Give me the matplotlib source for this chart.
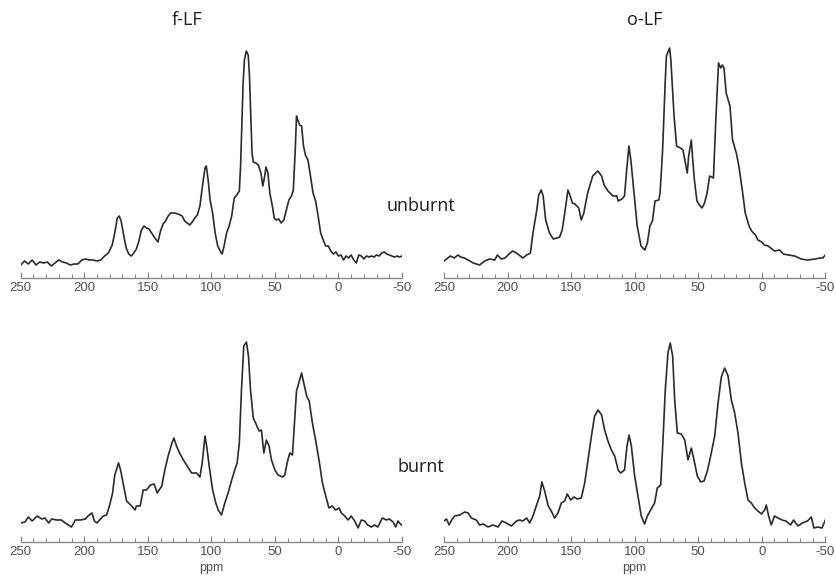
import matplotlib
matplotlib.use("Agg")
import matplotlib.pyplot as plt
from matplotlib.ticker import MultipleLocator

plt.rcParams["axes.unicode_minus"] = False

# ---------------- data (ppm, intensity) ----------------
fLF_unburnt_ppm = [250, 247, 244, 241, 238, 235, 232, 229, 226, 223, 220, 217, 214, 211, 208, 205, 202, 199, 196, 193,
                   190, 187, 184, 181, 178, 176, 174, 172.5, 171, 169, 167, 165, 163, 161, 159, 157, 155, 153, 151, 149,
                   147, 145, 142, 140, 138, 136, 134, 132, 129, 126, 123, 121, 119, 117, 115, 113, 111, 109, 107, 105,
                   104, 102.5, 101, 99, 97, 95, 93, 91.5, 90, 88, 86, 84, 82, 80, 78, 77, 76, 75, 74, 72.5,
                   71, 70, 69, 68, 67, 65, 63, 61, 59.5, 58, 57, 55.5, 54, 52, 50.5, 49, 47, 45, 43, 41,
                   39, 37, 35.5, 34, 33, 32, 30.5, 29, 27.5, 26, 24, 22, 20, 18, 16, 14, 12, 10, 8, 6,
                   4, 2, 0, -2, -4, -6, -8, -10, -12, -14, -16, -18, -20, -22, -24, -26, -28, -30, -32, -34,
                   -36, -38, -40, -42, -44, -46, -48, -50]
fLF_unburnt_int = [13, 17, 14, 18, 13, 16, 15, 16, 12, 15, 18, 16, 15, 13, 14, 14, 18, 19, 18, 18,
                   17, 18, 22, 25, 33, 45, 60, 62, 57, 43, 30, 24, 22, 25, 29, 37, 48, 52, 50, 49,
                   45, 41, 36, 47, 54, 57, 62, 65, 65, 64, 62, 57, 55, 53, 56, 60, 63, 72, 92, 110,
                   112, 98, 78, 65, 45, 32, 27, 24, 32, 45, 52, 62, 80, 83, 87, 112, 152, 195, 218, 227,
                   223, 202, 162, 125, 116, 115, 113, 105, 92, 102, 111, 105, 85, 72, 60, 58, 59, 55, 58, 68,
                   78, 82, 88, 128, 162, 158, 153, 152, 132, 123, 118, 102, 85, 77, 62, 45, 38, 32, 32, 27,
                   24, 26, 22, 23, 18, 22, 20, 23, 18, 15, 23, 22, 19, 22, 21, 22, 21, 23, 22, 25,
                   26, 24, 23, 22, 21, 22, 21, 22]

oLF_unburnt_ppm = [250, 247, 245, 242, 239, 237, 234, 231, 227, 222, 218, 214, 210, 208, 205, 202, 198, 196, 193, 190,
                   188, 185, 182, 180, 177, 175.5, 173.5, 172, 170, 167, 164, 161, 159, 157, 155, 152.5, 151, 149, 147, 144,
                   142, 140, 137, 133, 129, 126, 124, 121, 117, 114, 113, 110, 108, 106, 104.5, 103, 100.5, 98, 95, 92,
                   90, 88, 86, 84, 81, 80, 78, 76, 75, 72.5, 71.5, 69, 67, 64, 62, 58.6, 57.5, 55.4, 54.5, 53,
                   51, 49, 47, 45, 43, 41, 38, 36, 34, 32.3, 31, 29.7, 28, 25, 23, 20, 18, 15, 13, 10,
                   8, 5, 3, 0, -2, -5, -8, -10, -14, -17, -21, -26, -31, -36, -42, -46, -48, -50]
oLF_unburnt_int = [17, 20, 22, 20, 23, 21, 20, 18, 15, 13, 17, 19, 18, 23, 19, 20, 25, 27, 25, 22,
                   20, 23, 25, 45, 68, 83, 88, 82, 58, 45, 39, 40, 41, 48, 65, 88, 83, 75, 74, 70,
                   58, 65, 85, 102, 107, 102, 93, 87, 82, 82, 77, 79, 82, 112, 132, 118, 85, 52, 32, 28,
                   35, 52, 57, 77, 78, 85, 128, 195, 222, 230, 218, 162, 132, 130, 128, 105, 122, 138, 122, 98,
                   77, 73, 70, 75, 85, 102, 100, 162, 215, 210, 213, 210, 185, 172, 138, 125, 112, 85, 65, 52,
                   47, 43, 38, 36, 33, 32, 29, 27, 28, 24, 23, 22, 19, 18, 19, 20, 20, 23]

fLF_burnt_ppm = [250, 246.6, 244, 241, 237, 233.5, 231, 228, 225.6, 221.7, 218, 215, 212.5, 210, 207, 203, 199, 197, 194, 192,
                 190, 188, 185, 182.4, 180, 177.7, 176, 173, 171.4, 169, 166.7, 163.5, 160, 159, 156, 153.6, 151, 148, 145, 142.6,
                 139, 136.6, 134, 131, 129.5, 127.4, 125, 122, 119.5, 115.6, 111.7, 109, 107.2, 105, 103.8, 101.7, 99, 96.5, 94.6, 92,
                 89.4, 86.8, 84, 81.6, 79.7, 78, 76.3, 74.5, 72.4, 70.8, 69.2, 67, 64.5, 62.4, 60.6, 58.7, 56.7, 54.6, 52.7, 50,
                 47.5, 44, 42.2, 40.4, 38.3, 36.2, 33, 31.2, 29, 27.3, 25, 23, 20.5, 18, 15.3, 12.6, 10, 7.5, 5, 2.2,
                 -0.5, -2.3, -5, -7.5, -10, -12.8, -15.4, -18, -20.6, -23, -25.9, -28.5, -31, -34.5, -37.7, -40, -43, -45, -46.8, -49.5]
fLF_burnt_int = [19, 20, 25, 21, 26, 23, 24, 19, 23, 22, 22, 19, 17, 15, 22, 22, 23, 26, 29, 21,
                 19, 22, 26, 27, 37, 49, 67, 79, 72, 56, 41, 37, 32, 36, 36, 52, 52, 57, 58, 49,
                 56, 72, 86, 99, 104, 96, 89, 82, 77, 69, 69, 65, 79, 106, 97, 76, 52, 39, 32, 27,
                 39, 49, 62, 72, 79, 99, 152, 196, 200, 186, 152, 124, 117, 111, 112, 89, 102, 96, 82, 72,
                 67, 65, 67, 79, 89, 87, 151, 159, 169, 159, 146, 141, 119, 102, 82, 59, 46, 34, 36, 32,
                 34, 29, 26, 22, 26, 21, 14, 22, 21, 17, 15, 17, 15, 24, 22, 23, 20, 15, 21, 17]

oLF_burnt_ppm = [250, 248, 246, 244, 241.6, 237.7, 233.7, 231, 228.5, 224.6, 222, 219, 215.4, 211.4, 207.5, 204.4, 201, 197, 193, 190.5,
                 188, 185, 182.6, 180, 177.4, 174.7, 173, 170.8, 168, 165.6, 163, 160.3, 157.7, 155, 153, 150.3, 147.7, 145, 142, 139.3,
                 136.7, 134, 131.5, 128.8, 126, 123.6, 121, 118.3, 115.7, 113, 111, 108, 106, 104.4, 102.6, 100, 97.4, 94.8, 92.2, 90,
                 87.4, 84.3, 82.2, 79.5, 77.7, 75.9, 73.8, 72, 70.1, 68.5, 66.4, 63.3, 60.6, 58, 55.4, 53.3, 50.7, 48, 45.4, 42.8,
                 40.2, 37, 34.4, 31.8, 29.2, 26.5, 23.9, 21.3, 18.7, 16, 13.4, 10.8, 8.2, 5.6, 3, 0.3, -2.3, -3.6, -5.4, -7.5,
                 -10, -12.8, -16, -19, -22.7, -25, -28.5, -32, -36, -39, -41, -44, -47.4, -50]
oLF_burnt_int = [21, 23, 17, 22, 26, 27, 30, 29, 24, 22, 17, 18, 15, 17, 15, 21, 19, 16, 21, 22,
                 21, 24, 19, 26, 36, 46, 60, 51, 36, 31, 24, 29, 39, 41, 48, 42, 45, 43, 44, 59,
                 82, 106, 126, 132, 127, 112, 101, 92, 86, 72, 69, 72, 96, 107, 96, 66, 46, 26, 18, 26,
                 32, 39, 54, 57, 102, 152, 189, 199, 186, 142, 109, 108, 102, 82, 94, 82, 66, 60, 61, 71,
                 86, 106, 139, 165, 174, 166, 142, 129, 109, 79, 59, 42, 39, 34, 31, 28, 32, 37, 26, 17,
                 26, 24, 22, 21, 17, 22, 16, 19, 21, 25, 14, 15, 14, 22]

panel_titles = ["f-LF", "o-LF"]
row_labels = ["unburnt", "burnt"]
x_label = "ppm"
x_ticks = [250, 200, 150, 100, 50, 0, -50]

# ---------------- figure ----------------
W, H = 836, 582
fig = plt.figure(figsize=(W / 100, H / 100), dpi=100)
fig.patch.set_facecolor("white")

LINE = "#2b2b2b"
AXC = "#8a8a8a"
LBL = "#505050"


def add_panel(x0, x1, y_axis, y_top, ppm, inten, show_xlabel):
    left = x0 / W
    width = (x1 - x0) / W
    bottom = 1 - y_axis / H
    height = (y_axis - y_top) / H
    ax = fig.add_axes([left, bottom, width, height])
    ax.plot(ppm, inten, color=LINE, lw=1.2, solid_joinstyle="round")
    ax.set_xlim(250, -50)
    ax.set_ylim(0, y_axis - y_top)
    for s in ["top", "left", "right"]:
        ax.spines[s].set_visible(False)
    ax.spines["bottom"].set_color(AXC)
    ax.spines["bottom"].set_linewidth(1.0)
    ax.set_yticks([])
    ax.set_xticks(x_ticks)
    ax.xaxis.set_minor_locator(MultipleLocator(10))
    ax.tick_params(axis="x", which="major", direction="in", length=4, width=0.9, color=AXC,
                   labelsize=9.5, labelcolor=LBL, pad=3)
    ax.tick_params(axis="x", which="minor", direction="in", length=3, width=0.8, color=AXC)
    for lab in ax.get_xticklabels():
        lab.set_fontfamily("Liberation Sans")
    ax.patch.set_alpha(0)
    if show_xlabel:
        ax.set_xlabel(x_label, fontsize=9, color=LBL, family="Liberation Sans", labelpad=3)
    return ax


add_panel(20.7, 402, 278, 30, fLF_unburnt_ppm, fLF_unburnt_int, False)
add_panel(444, 825.3, 278, 30, oLF_unburnt_ppm, oLF_unburnt_int, False)
add_panel(20.7, 402, 542, 300, fLF_burnt_ppm, fLF_burnt_int, True)
add_panel(444, 825.3, 542, 300, oLF_burnt_ppm, oLF_burnt_int, True)

TXT = "#1e1e1e"
fs = 13
fig.text(187 / W, 1 - 20 / H, panel_titles[0], ha="center", va="center", fontsize=fs, color=TXT, family="Open Sans")
fig.text(645 / W, 1 - 20 / H, panel_titles[1], ha="center", va="center", fontsize=fs, color=TXT, family="Open Sans")
fig.text(421 / W, 1 - 206 / H, row_labels[0], ha="center", va="center", fontsize=fs, color=TXT, family="Open Sans")
fig.text(421 / W, 1 - 467 / H, row_labels[1], ha="center", va="center", fontsize=fs, color=TXT, family="Open Sans")

fig.savefig("out.png", dpi=100, facecolor="white")
